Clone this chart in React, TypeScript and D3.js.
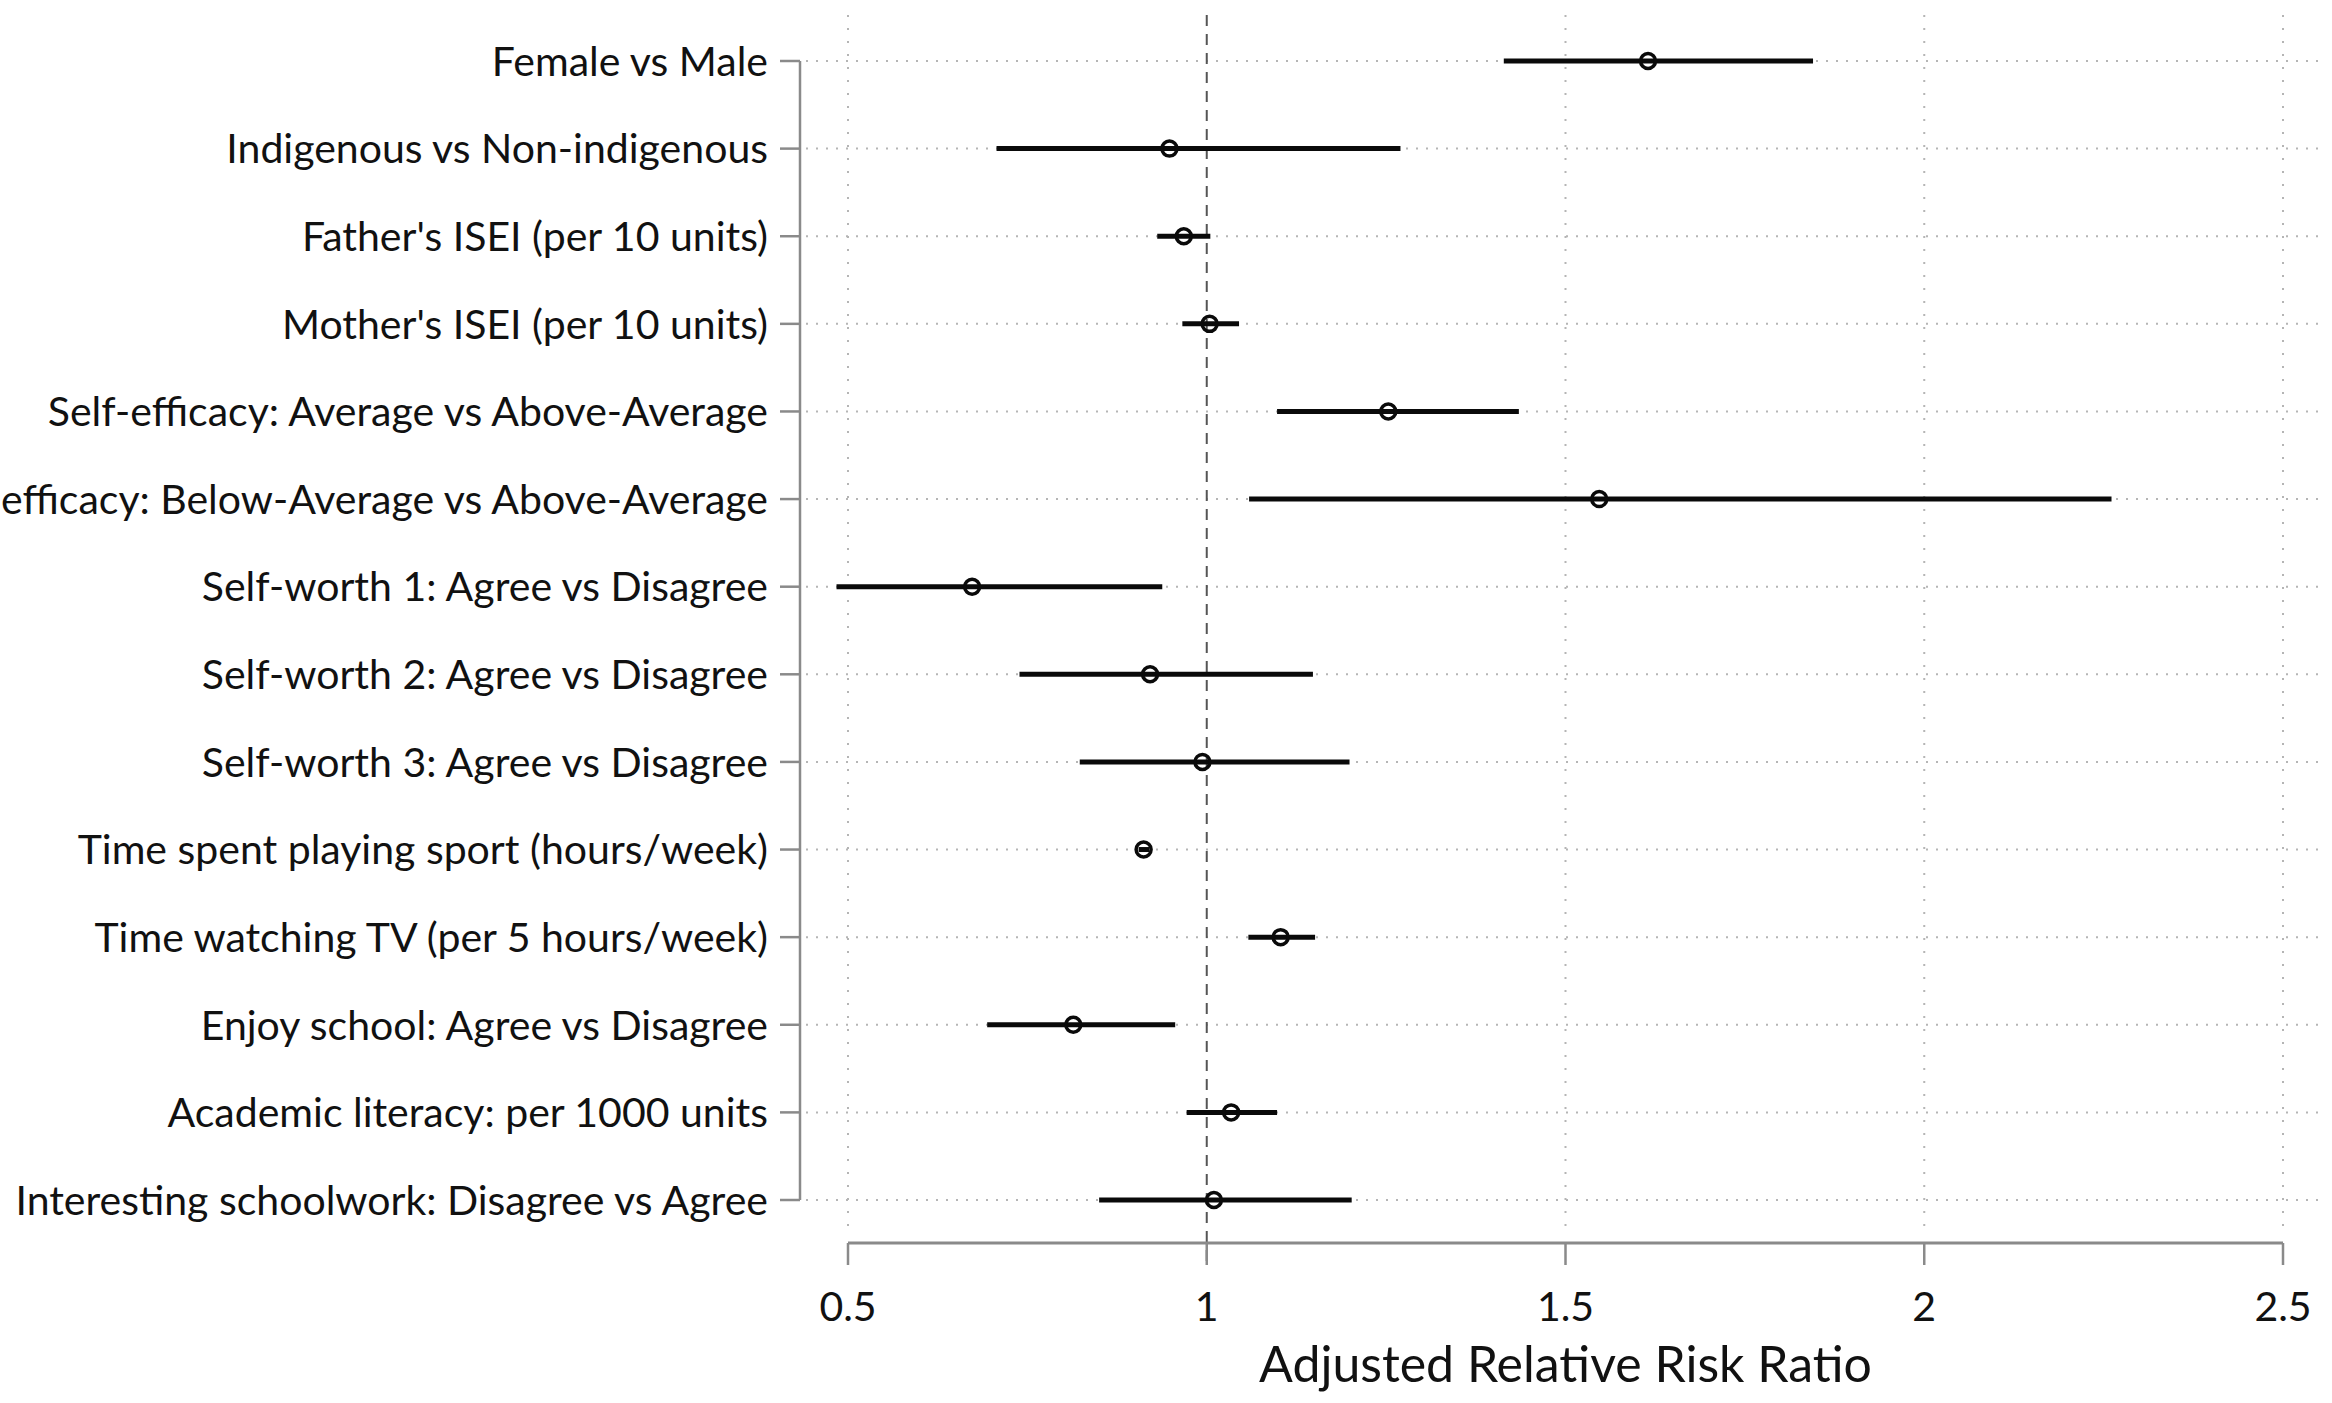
import React from "react";
import * as d3 from "d3";

const categories = [
  "Female vs Male",
  "Indigenous vs Non-indigenous",
  "Father's ISEI (per 10 units)",
  "Mother's ISEI (per 10 units)",
  "Self-efficacy: Average vs Above-Average",
  "Self-efficacy: Below-Average vs Above-Average",
  "Self-worth 1: Agree vs Disagree",
  "Self-worth 2: Agree vs Disagree",
  "Self-worth 3: Agree vs Disagree",
  "Time spent playing sport (hours/week)",
  "Time watching TV (per 5 hours/week)",
  "Enjoy school: Agree vs Disagree",
  "Academic literacy: per 1000 units",
  "Interesting schoolwork: Disagree vs Agree",
];
const estimates = [1.615, 0.948, 0.968, 1.004, 1.253, 1.547, 0.673, 0.921, 0.994, 0.912, 1.103, 0.814, 1.034, 1.010];
const lower = [1.414, 0.707, 0.931, 0.966, 1.098, 1.059, 0.484, 0.739, 0.823, 0.905, 1.058, 0.694, 0.972, 0.850];
const upper = [1.845, 1.270, 1.005, 1.045, 1.435, 2.261, 0.938, 1.148, 1.199, 0.920, 1.151, 0.956, 1.098, 1.202];
const xTicks = [0.5, 1, 1.5, 2, 2.5];
const xTickLabels = ["0.5", "1", "1.5", "2", "2.5"];
const xTitle = "Adjusted Relative Risk Ratio";

const W = 2332;
const H = 1403;
const FONT = "Lato, 'Open Sans', sans-serif";

export default function App() {
  const x = d3.scaleLinear().domain([0.5, 2.5]).range([848, 2283]);
  const y = d3
    .scalePoint<string>()
    .domain(categories)
    .range([61, 1200]);
  const axisX = 800;
  const axisY = 1243;
  const gridTop = 15;
  const gridBottom = 1228;
  const axisColor = "#8a8a8a";

  return (
    <svg
      width={W}
      height={H}
      viewBox={`0 0 ${W} ${H}`}
      style={{ position: "absolute", left: 0, top: 0, background: "#fff" }}
      fontFamily={FONT}
    >
      <rect x={0} y={0} width={W} height={H} fill="#fff" />
      {/* vertical grid */}
      {xTicks
        .filter((t) => t !== 1)
        .map((t) => (
          <line
            key={"vg" + t}
            x1={x(t)}
            x2={x(t)}
            y1={gridTop}
            y2={gridBottom}
            stroke="#b5b5b5"
            strokeWidth={2}
            strokeDasharray="2 11"
          />
        ))}
      {/* horizontal grid */}
      {categories.map((c) => (
        <line
          key={"hg" + c}
          x1={806}
          x2={2322}
          y1={y(c)}
          y2={y(c)}
          stroke="#b5b5b5"
          strokeWidth={2}
          strokeDasharray="2 8"
        />
      ))}
      {/* reference line at 1 */}
      <line
        x1={x(1)}
        x2={x(1)}
        y1={gridTop}
        y2={axisY + 22}
        stroke="#555"
        strokeWidth={2}
        strokeDasharray="11 8"
      />
      {/* y axis */}
      <line x1={axisX} x2={axisX} y1={y(categories[0])} y2={y(categories[categories.length - 1])} stroke={axisColor} strokeWidth={2.5} />
      {categories.map((c) => (
        <g key={"yl" + c}>
          <line x1={axisX - 20} x2={axisX} y1={y(c)} y2={y(c)} stroke={axisColor} strokeWidth={2.5} />
          <text
            x={768}
            y={y(c)}
            dy="0.36em"
            textAnchor="end"
            fontSize={41}
            fill="#111"
          >
            {c}
          </text>
        </g>
      ))}
      {/* x axis */}
      <line x1={x(0.5)} x2={x(2.5)} y1={axisY} y2={axisY} stroke={axisColor} strokeWidth={3} />
      {xTicks.map((t, i) => (
        <g key={"xt" + t}>
          <line x1={x(t)} x2={x(t)} y1={axisY} y2={axisY + 22} stroke={axisColor} strokeWidth={2.5} />
          <text x={x(t)} y={1321} textAnchor="middle" fontSize={41} fill="#111">
            {xTickLabels[i]}
          </text>
        </g>
      ))}
      <text x={(x(0.5) + x(2.5)) / 2} y={1382} textAnchor="middle" fontSize={50} fill="#111">
        {xTitle}
      </text>
      {/* CIs and points */}
      {categories.map((c, i) => (
        <g key={"pt" + c}>
          <line x1={x(lower[i])} x2={x(upper[i])} y1={y(c)} y2={y(c)} stroke="#0a0a0a" strokeWidth={5} />
          <circle cx={x(estimates[i])} cy={y(c)} r={7.5} fill="none" stroke="#0a0a0a" strokeWidth={3.5} />
        </g>
      ))}
    </svg>
  );
}
